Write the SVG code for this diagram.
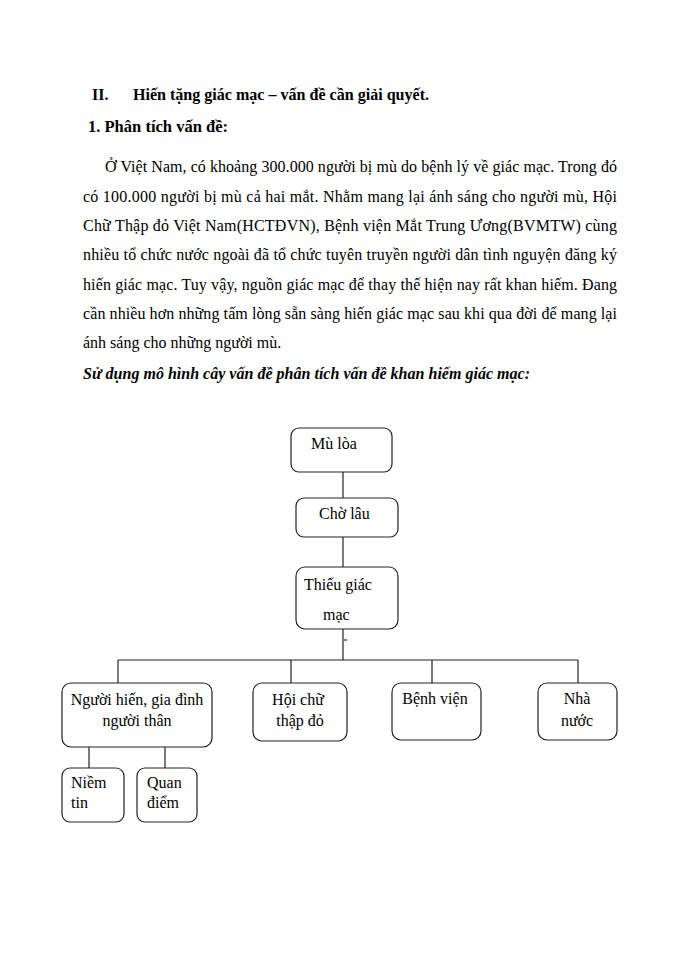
<svg xmlns="http://www.w3.org/2000/svg" width="700" height="960" viewBox="0 0 700 960">
<style>
text{font-family:"Liberation Serif","Times New Roman",serif;font-size:16px;fill:#000}
.b{font-weight:bold}
.bi{font-weight:bold;font-style:italic}
.box{fill:#fff;stroke:#222;stroke-width:1.2}
.ln{stroke:#222;stroke-width:1.2;fill:none}
</style>
<rect width="700" height="960" fill="#fff"/>
<g id="text-body">
<text class="b" x="92" y="100">II.</text>
<text class="b" x="133" y="100" textLength="296" lengthAdjust="spacingAndGlyphs">Hiến tặng giác mạc – vấn đề cần giải quyết.</text>
<text class="b" x="88" y="132" textLength="140" lengthAdjust="spacingAndGlyphs">1.  Phân tích vấn đề:</text>
<text x="105" y="172" textLength="512" lengthAdjust="spacing">Ở Việt Nam, có khoảng 300.000 người bị mù do bệnh lý về giác mạc. Trong đó</text>
<text x="83" y="202" textLength="534" lengthAdjust="spacing">có 100.000 người bị mù cả hai mắt. Nhằm mang lại ánh sáng cho người mù, Hội</text>
<text x="83" y="231" textLength="534" lengthAdjust="spacing">Chữ Thập đỏ Việt Nam(HCTĐVN), Bệnh viện Mắt Trung Ương(BVMTW) cùng</text>
<text x="83" y="260" textLength="534" lengthAdjust="spacing">nhiều tổ chức nước ngoài đã tổ chức tuyên truyền người dân tình nguyện đăng ký</text>
<text x="83" y="290" textLength="534" lengthAdjust="spacing">hiến giác mạc. Tuy vậy, nguồn giác mạc để thay thế hiện nay rất khan hiếm.  Đang</text>
<text x="83" y="319" textLength="534" lengthAdjust="spacing">cần nhiều  hơn những tấm lòng sẵn sàng hiến giác mạc sau khi qua đời để mang lại</text>
<text x="83" y="348">ánh sáng cho những người mù.</text>
<text class="bi" x="83" y="379" textLength="447" lengthAdjust="spacingAndGlyphs">Sử dụng mô hình cây vấn đề phân tích vấn đề khan hiếm giác mạc:</text>
</g>
<g id="connectors">
<line class="ln" x1="343" y1="472" x2="343" y2="498"/>
<line class="ln" x1="343" y1="537" x2="343" y2="567"/>
<line class="ln" x1="343" y1="629" x2="343" y2="660"/>
<line class="ln" x1="344" y1="640" x2="347" y2="640"/>
<line class="ln" x1="118" y1="660" x2="578" y2="660"/>
<line class="ln" x1="118" y1="660" x2="118" y2="683"/>
<line class="ln" x1="291" y1="660" x2="291" y2="683"/>
<line class="ln" x1="432" y1="660" x2="432" y2="683"/>
<line class="ln" x1="578" y1="660" x2="578" y2="683"/>
<line class="ln" x1="89" y1="747" x2="89" y2="768"/>
<line class="ln" x1="165" y1="747" x2="165" y2="768"/>
</g>
<g id="node-mu-loa">
<rect class="box" x="291" y="428" width="101" height="44" rx="8"/>
<text x="311" y="449">Mù lòa</text>
</g>
<g id="node-cho-lau">
<rect class="box" x="296" y="498" width="102" height="39" rx="8"/>
<text x="319" y="519">Chờ lâu</text>
</g>
<g id="node-thieu-giac-mac">
<rect class="box" x="296" y="567" width="102" height="62" rx="9"/>
<text x="304" y="590">Thiếu giác</text>
<text x="323" y="620">mạc</text>
</g>
<g id="node-nguoi-hien">
<rect class="box" x="62" y="683" width="150" height="64" rx="9"/>
<text x="137" y="705" text-anchor="middle">Người hiến, gia đình</text>
<text x="137" y="726" text-anchor="middle">người thân</text>
</g>
<g id="node-hoi-chu-thap-do">
<rect class="box" x="253" y="683" width="94" height="58" rx="9"/>
<text x="298" y="705" text-anchor="middle">Hội chữ</text>
<text x="300" y="726" text-anchor="middle">thập đỏ</text>
</g>
<g id="node-benh-vien">
<rect class="box" x="392" y="683" width="89" height="57" rx="9"/>
<text x="435" y="704" text-anchor="middle">Bệnh viện</text>
</g>
<g id="node-nha-nuoc">
<rect class="box" x="538" y="683" width="79" height="57" rx="9"/>
<text x="577" y="704" text-anchor="middle">Nhà</text>
<text x="577" y="726" text-anchor="middle">nước</text>
</g>
<g id="node-niem-tin">
<rect class="box" x="62" y="768" width="62" height="54" rx="8"/>
<text x="71" y="788">Niềm</text>
<text x="71" y="808">tin</text>
</g>
<g id="node-quan-diem">
<rect class="box" x="137" y="768" width="60" height="54" rx="8"/>
<text x="147" y="788">Quan</text>
<text x="147" y="808">điểm</text>
</g>
</svg>
